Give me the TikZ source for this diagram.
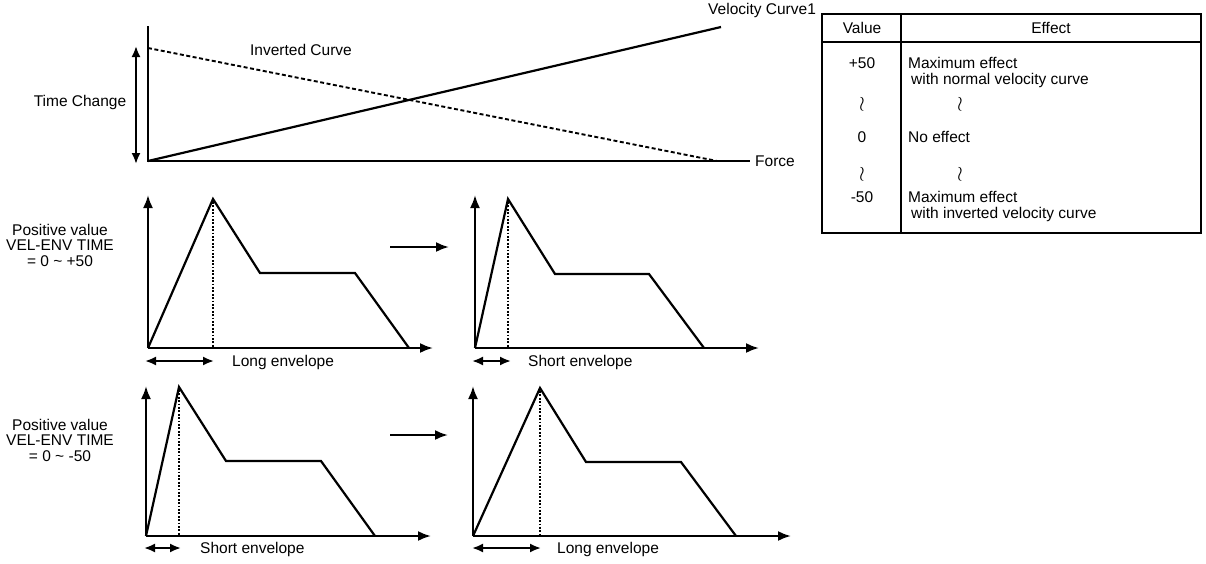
\documentclass[tikz,border=0pt]{standalone}
\usepackage{fontspec}
\setmainfont{Liberation Sans}
\usetikzlibrary{arrows.meta}
\begin{document}
\begin{tikzpicture}[x=1pt,y=-1pt,
  txt/.style={inner sep=0pt, font=\fontsize{15.5}{15.5}\selectfont},
  wavy/.style={inner sep=0pt, font=\fontsize{22}{22}\selectfont},
  axis/.style={line width=2.2pt},
  arr/.style={line width=2.2pt,-{Latex[length=13pt,width=10pt]}},
  env/.style={line width=2.2pt, line join=miter},
  dotv/.style={line width=1.8pt, dash pattern=on 1.8pt off 1.6pt},
  dbl/.style={line width=2pt,{Latex[length=11pt,width=9pt]}-{Latex[length=11pt,width=9pt]}},
  tline/.style={line width=1.6pt},
]
\useasboundingbox (0,0) rectangle (1206,563);

% ---------- top graph ----------
\coordinate (O) at (148,161);
\coordinate (Otop) at (148,26);
\coordinate (Oend) at (750,161);
\coordinate (Vend) at (721,27);
\coordinate (Istart) at (148,48);
\coordinate (Iend) at (717,161);
\draw[axis] (Otop) -- (O) -- (Oend);
\draw[axis] (O) -- (Vend);
\draw[line width=1.9pt, dash pattern=on 4pt off 2.5pt] (Istart) -- (Iend);
\coordinate (tcA) at (136,46);
\coordinate (tcB) at (136,164);
\draw[dbl] (tcA) -- (tcB);
\node[txt] (timechange) at (80,102) {Time Change};
\node[txt] (inverted) at (301,50) {Inverted Curve};
\node[txt, anchor=west] (force) at (755,161) {Force};
\node[txt, anchor=west] (velocity) at (708,10) {Velocity Curve1};

% ---------- table ----------
\draw[tline] (822,14) rectangle (1201,233);
\draw[tline] (901,14) -- (901,233);
\draw[tline] (822,42) -- (1201,42);
\node[txt] (hval) at (862,28) {Value};
\node[txt] (heff) at (1051,28) {Effect};
\node[txt] (v1) at (862,63) {+50};
\node[txt, anchor=west] (e1a) at (908,63) {Maximum effect};
\node[txt, anchor=west] (e1b) at (911,80) {with normal velocity curve};
\node[wavy] (w1) at (862,104) {$\wr$};
\node[wavy] (w2) at (960,104) {$\wr$};
\node[txt] (v2) at (862,137) {0};
\node[txt, anchor=west] (e2) at (908,137) {No effect};
\node[wavy] (w3) at (862,174) {$\wr$};
\node[wavy] (w4) at (960,174) {$\wr$};
\node[txt] (v3) at (862,197) {-50};
\node[txt, anchor=west] (e3a) at (908,197) {Maximum effect};
\node[txt, anchor=west] (e3b) at (911,214) {with inverted velocity curve};

% ---------- labels on the left ----------
\node[txt, align=center] (lab1) at (60,245) {Positive value\\VEL-ENV TIME\\= 0 \textasciitilde\ +50};
\node[txt, align=center] (lab2) at (60,440) {Positive value\\VEL-ENV TIME\\= 0 \textasciitilde\ -50};

% ---------- graph A (long) ----------
\coordinate (A0) at (148,348);
\draw[arr] (A0) -- (148,195);
\draw[arr] (A0) -- (433,348);
\draw[env] (A0) -- (213,199) -- (260,273) -- (355,273) -- (409,348);
\draw[dotv] (213,202) -- (213,348);
\draw[dbl] (145,361) -- (214,361);
\node[txt, anchor=west] (Along) at (232,362) {Long envelope};

% ---------- graph B (short) ----------
\coordinate (B0) at (475,348);
\draw[arr] (B0) -- (475,195);
\draw[arr] (B0) -- (759,348);
\draw[env] (B0) -- (508,199) -- (555,274) -- (649,274) -- (704,348);
\draw[dotv] (508,202) -- (508,348);
\draw[dbl] (472,361) -- (511,361);
\node[txt, anchor=west] (Bshort) at (528,362) {Short envelope};

% ---------- graph C (short) ----------
\coordinate (C0) at (146,536);
\draw[arr] (C0) -- (146,386);
\draw[arr] (C0) -- (431,536);
\draw[env] (C0) -- (179,387) -- (226,461) -- (321,461) -- (375,536);
\draw[dotv] (179,390) -- (179,536);
\draw[dbl] (144,548) -- (181,548);
\node[txt, anchor=west] (Cshort) at (200,549) {Short envelope};

% ---------- graph D (long) ----------
\coordinate (D0) at (473,536);
\draw[arr] (D0) -- (473,386);
\draw[arr] (D0) -- (791,536);
\draw[env] (D0) -- (540,388) -- (586,462) -- (681,462) -- (736,536);
\draw[dotv] (540,391) -- (540,536);
\draw[dbl] (472,548) -- (541,548);
\node[txt, anchor=west] (Dlong) at (557,549) {Long envelope};

% ---------- transition arrows ----------
\coordinate (t1a) at (390,247);
\coordinate (t1b) at (449,247);
\coordinate (t2a) at (390,435);
\coordinate (t2b) at (448,435);
\draw[arr] (t1a) -- (t1b);
\draw[arr] (t2a) -- (t2b);
\end{tikzpicture}
\end{document}
